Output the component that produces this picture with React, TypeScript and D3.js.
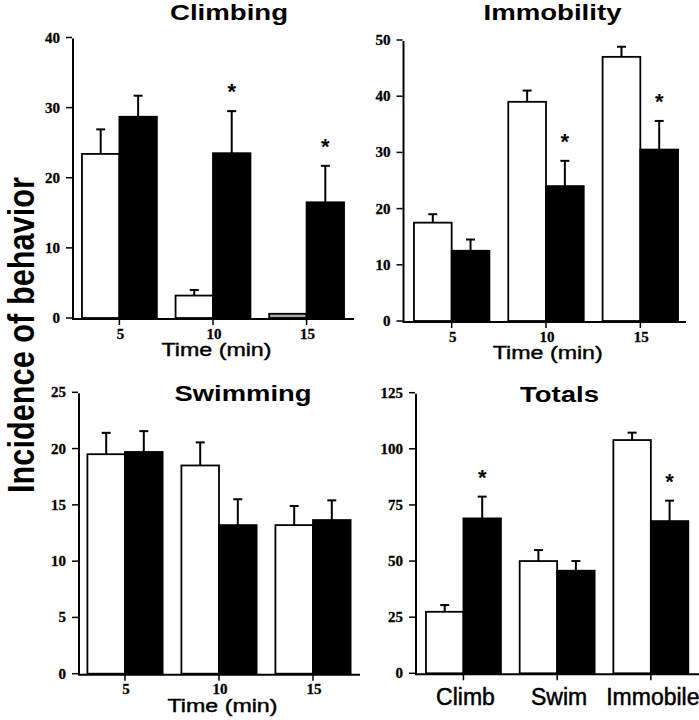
import React from 'react';
import * as d3 from 'd3';

// ---- data ----
const timeCategories = ['5', '10', '15'];
const totalsCategories = ['Climb', 'Swim', 'Immobile'];

const climbingControl = [23.4, 3.2, 0.6];
const climbingControlSem = [3.5, 0.8, 0];
const climbingTreated = [28.7, 23.5, 16.5];
const climbingTreatedSem = [3.0, 6.0, 5.2];
const climbingStars = [false, true, true];

const immobilityControl = [17.5, 39.0, 47.0];
const immobilityControlSem = [1.5, 2.0, 1.8];
const immobilityTreated = [12.5, 24.0, 30.5];
const immobilityTreatedSem = [2.0, 4.5, 5.1];
const immobilityStars = [false, true, true];

const swimmingControl = [19.5, 18.5, 13.2];
const swimmingControlSem = [1.9, 2.05, 1.7];
const swimmingTreated = [19.7, 13.2, 13.65];
const swimmingTreatedSem = [1.85, 2.3, 1.75];
const swimmingStars = [false, false, false];

const totalsControl = [27.4, 50.0, 103.9];
const totalsControlSem = [3.0, 4.9, 3.3];
const totalsTreated = [69.0, 45.7, 67.8];
const totalsTreatedSem = [9.7, 4.3, 9.1];
const totalsStars = [true, false, true];

const climbTicks = [0, 10, 20, 30, 40];
const immobTicks = [0, 10, 20, 30, 40, 50];
const swimTicks = [0, 5, 10, 15, 20, 25];
const totalTicks = [0, 25, 50, 75, 100, 125];

const yAxisTitle = 'Incidence of behavior';
const xAxisTitle = 'Time (min)';

type PanelProps = {
  title: string;
  categories: string[];
  control: number[];
  controlSem: number[];
  treated: number[];
  treatedSem: number[];
  stars: boolean[];
  ticks: number[];
  x0: number;
  x1: number;
  xr0: number;
  xr1: number;
  yTop: number;
  yBottom: number;
  titleX: number;
  titleY: number;
  titleLen: number;
  categoryLabels: boolean;
};

const serif = '"Liberation Serif", "Times New Roman", serif';
const sans = '"Liberation Sans", Arial, sans-serif';

function Panel(p: PanelProps) {
  const maxV = p.ticks[p.ticks.length - 1];
  const y = d3.scaleLinear().domain([0, maxV]).range([p.yBottom, p.yTop]);
  const x = d3
    .scaleBand<string>()
    .domain(p.categories)
    .range([p.xr0, p.xr1])
    .paddingInner(0.2)
    .paddingOuter(0.1);
  const bw = x.bandwidth() / 2;
  const capHalf = 4.5;
  const y0 = y(0);

  const bars: React.ReactNode[] = [];
  p.categories.forEach((c, i) => {
    const gx = x(c) as number;
    const series = [
      { v: p.control[i], s: p.controlSem[i], fill: '#fff', x: gx, star: false },
      { v: p.treated[i], s: p.treatedSem[i], fill: '#000', x: gx + bw, star: p.stars[i] },
    ];
    series.forEach((d, j) => {
      const cx = d.x + bw / 2;
      const top = y(d.v);
      bars.push(
        <rect
          key={`b${i}-${j}`}
          x={d.x}
          y={top}
          width={bw}
          height={y0 - top}
          fill={d.fill === '#fff' && d.v < 1 ? '#aaa' : d.fill}
          stroke="#000"
          strokeWidth={1.8}
        />
      );
      if (d.s > 0) {
        const et = y(d.v + d.s);
        bars.push(
          <g key={`e${i}-${j}`} stroke="#000" strokeWidth={2}>
            <line x1={cx} x2={cx} y1={top} y2={et} />
            <line x1={cx - capHalf} x2={cx + capHalf} y1={et} y2={et} />
          </g>
        );
        if (d.star) {
          bars.push(
            <text
              key={`s${i}-${j}`}
              x={cx}
              y={et - 12}
              textAnchor="middle"
              fontFamily={sans}
              fontWeight="bold"
              fontSize={22}
            >
              *
            </text>
          );
        }
      }
    });
  });

  return (
    <g>
      <text
        x={p.titleX}
        y={p.titleY}
        textAnchor="middle"
        fontFamily={sans}
        fontWeight="bold"
        fontSize={22}
        textLength={p.titleLen}
        lengthAdjust="spacingAndGlyphs"
      >
        {p.title}
      </text>
      {bars}
      {/* y axis */}
      <line x1={p.x0} x2={p.x0} y1={y(maxV) + 1} y2={y0 + 1} stroke="#000" strokeWidth={2} />
      {p.ticks.map((t) => (
        <g key={`t${t}`}>
          <line x1={p.x0 - 7} x2={p.x0 - 1} y1={y(t)} y2={y(t)} stroke="#000" strokeWidth={1.5} />
          <text
            x={p.x0 - 13}
            y={y(t) + 5}
            textAnchor="end"
            fontFamily={serif}
            fontWeight="bold"
            fontSize={15}
            stroke="#000"
            strokeWidth={0.3}
          >
            {t}
          </text>
        </g>
      ))}
      {/* x axis */}
      <line x1={p.x0 - 1} x2={p.x1} y1={y0 + 1} y2={y0 + 1} stroke="#000" strokeWidth={2} />
      {p.categories.map((c) => {
        const cx = (x(c) as number) + x.bandwidth() / 2;
        return (
          <g key={`x${c}`}>
            <line x1={cx} x2={cx} y1={y0 + 1} y2={y0 + 7} stroke="#000" strokeWidth={1.5} />
            {p.categoryLabels ? (
              <text
                x={cx + 2}
                y={y0 + 32}
                textAnchor="middle"
                fontFamily={sans}
                fontSize={23}
                stroke="#000"
                strokeWidth={0.5}
              >
                {c}
              </text>
            ) : (
              <text
                x={cx + 1}
                y={y0 + 20.5}
                textAnchor="middle"
                fontFamily={serif}
                fontWeight="bold"
                fontSize={15}
                stroke="#000"
                strokeWidth={0.3}
              >
                {c}
              </text>
            )}
          </g>
        );
      })}
      {!p.categoryLabels && (
        <text
          x={(p.x0 + p.x1) / 2 + 3}
          y={y0 + 38}
          textAnchor="middle"
          fontFamily={sans}
          fontSize={18}
          stroke="#000"
          strokeWidth={0.4}
          textLength={110}
          lengthAdjust="spacingAndGlyphs"
        >
          {xAxisTitle}
        </text>
      )}
    </g>
  );
}

export default function App() {
  return (
    <svg
      width={699}
      height={720}
      viewBox="0 0 699 720"
      style={{ position: 'absolute', left: 0, top: 0, background: '#fff' }}
    >
      <rect x={0} y={0} width={699} height={720} fill="#fff" />
      <Panel
        title="Climbing"
        categories={timeCategories}
        control={climbingControl}
        controlSem={climbingControlSem}
        treated={climbingTreated}
        treatedSem={climbingTreatedSem}
        stars={climbingStars}
        ticks={climbTicks}
        x0={73}
        x1={354}
        xr0={72.6}
        xr1={353.4}
        yTop={37.5}
        yBottom={318}
        titleX={229}
        titleY={19.5}
        titleLen={118}
        categoryLabels={false}
      />
      <Panel
        title="Immobility"
        categories={timeCategories}
        control={immobilityControl}
        controlSem={immobilityControlSem}
        treated={immobilityTreated}
        treatedSem={immobilityTreatedSem}
        stars={immobilityStars}
        ticks={immobTicks}
        x0={403.5}
        x1={686}
        xr0={404.5}
        xr1={687.5}
        yTop={40}
        yBottom={321}
        titleX={552.5}
        titleY={19.5}
        titleLen={138}
        categoryLabels={false}
      />
      <Panel
        title="Swimming"
        categories={timeCategories}
        control={swimmingControl}
        controlSem={swimmingControlSem}
        treated={swimmingTreated}
        treatedSem={swimmingTreatedSem}
        stars={swimmingStars}
        ticks={swimTicks}
        x0={79}
        x1={360}
        xr0={78}
        xr1={360}
        yTop={392.3}
        yBottom={673.7}
        titleX={243}
        titleY={400.7}
        titleLen={137}
        categoryLabels={false}
      />
      <Panel
        title="Totals"
        categories={totalsCategories}
        control={totalsControl}
        controlSem={totalsControlSem}
        treated={totalsTreated}
        treatedSem={totalsTreatedSem}
        stars={totalsStars}
        ticks={totalTicks}
        x0={416}
        x1={699}
        xr0={416.6}
        xr1={697.7}
        yTop={392.7}
        yBottom={673.3}
        titleX={559.5}
        titleY={402}
        titleLen={79}
        categoryLabels={true}
      />
      <text
        transform="translate(34,335) rotate(-90) scale(1,1.25)"
        textAnchor="middle"
        fontFamily={sans}
        fontWeight="bold"
        fontSize={30}
        textLength={316}
        lengthAdjust="spacingAndGlyphs"
      >
        {yAxisTitle}
      </text>
    </svg>
  );
}
